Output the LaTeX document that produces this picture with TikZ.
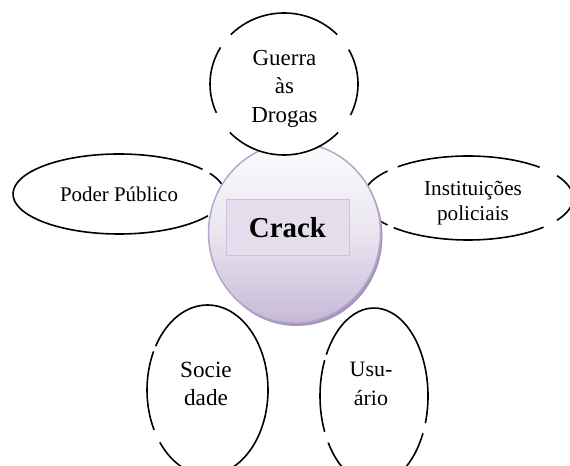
\documentclass[tikz,border=0pt]{standalone}
\usepackage{fontspec}
\setmainfont{Liberation Serif}
\usetikzlibrary{shapes.geometric}
\definecolor{circtop}{HTML}{FCFBFD}
\definecolor{circmid}{HTML}{EAE5F0}
\definecolor{circbot}{HTML}{C6B9D7}
\definecolor{circline}{HTML}{B5A6CE}
\definecolor{shadowc}{HTML}{A396B8}
\definecolor{rectfill}{HTML}{E4DDEC}
\definecolor{rectline}{HTML}{CDC2DD}
\begin{document}
\begin{tikzpicture}[x=1bp,y=1bp,
  outl/.style={black,line width=1.6bp},
  lbl/.style={align=center,inner sep=0pt,text=black}]
\useasboundingbox (0,0) rectangle (570,466);
\clip (0,0) rectangle (570,466);
% ellipse centres
\coordinate (Pc) at (119,272);
\coordinate (Ic) at (468,268);
\coordinate (Sc) at (207.5,76);
\coordinate (Uc) at (374,70);
\coordinate (Gc) at (284,382);
\coordinate (Cc) at (294.5,233);
% outer ellipses below the centre
\foreach \s/\e in {38/327,14/31}
  \draw[outl] (Pc) ++(\s:106 and 40) arc[start angle=\s,end angle=\e,x radius=106,y radius=40];
\foreach \s/\e in {-32/32,47/132,140/170,205/220,225/316}
  \draw[outl] (Ic) ++(\s:105 and 42) arc[start angle=\s,end angle=\e,x radius=105,y radius=42];
\foreach \s/\e in {153/208,218/509}
  \draw[outl] (Sc) ++(\s:60.5 and 85) arc[start angle=\s,end angle=\e,x radius=60.5,y radius=85];
\foreach \s/\e in {-18/152,156/204,212/335}
  \draw[outl] (Uc) ++(\s:54 and 88) arc[start angle=\s,end angle=\e,x radius=54,y radius=88];
% central disc
\fill[shadowc] ([shift={(2,-3)}]Cc) ellipse[x radius=86,y radius=90];
\node[ellipse,minimum width=172bp,minimum height=180bp,inner sep=0pt,
      top color=circtop,bottom color=circbot,middle color=circmid,
      draw=circline,line width=1.5bp] (C) at (Cc) {};
\node[draw=rectline,fill=rectfill,line width=1bp,minimum width=123bp,minimum height=56bp,
      inner sep=0pt,font=\fontsize{29}{34}\selectfont\bfseries] (R) at (287.5,238) {Crack};
% top ellipse over the disc
\node[ellipse,fill=white,minimum width=148bp,minimum height=142bp,inner sep=0pt] (G) at (Gc) {};
\foreach \s/\e in {-26/29,44/136,149/204,223/317}
  \draw[outl] (Gc) ++(\s:74 and 71) arc[start angle=\s,end angle=\e,x radius=74,y radius=71];
% labels
\node[lbl,font=\fontsize{23}{28.5}\selectfont] (Gt) at (284.5,377.3) {Guerra\\às\\Drogas};
\node[lbl,font=\fontsize{21}{25}\selectfont] (Pt) at (119,271.5) {Poder Público};
\node[lbl,font=\fontsize{21.3}{25}\selectfont] (It) at (473,263.2) {Instituições\\policiais};
\node[lbl,font=\fontsize{23.3}{28.3}\selectfont] (St) at (206,82.3) {Socie\\dade};
\node[lbl,font=\fontsize{22}{29}\selectfont] (Ut) at (371,82.5) {Usu-\\ário};
\end{tikzpicture}
\end{document}
